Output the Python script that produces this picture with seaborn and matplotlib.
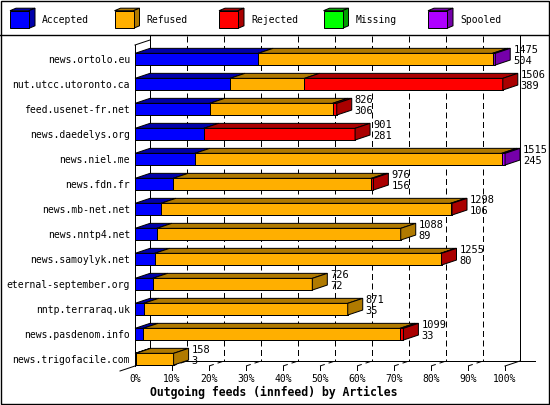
import numpy as np
import pandas as pd
import matplotlib
matplotlib.use("Agg")
import matplotlib.pyplot as plt
import seaborn as sns

# Outgoing feeds (innfeed) - articles per peer
servers = ["news.ortolo.eu", "nut.utcc.utoronto.ca", "feed.usenet-fr.net",
           "news.daedelys.org", "news.niel.me", "news.fdn.fr", "news.mb-net.net",
           "news.nntp4.net", "news.samoylyk.net", "eternal-september.org",
           "nntp.terraraq.uk", "news.pasdenom.info", "news.trigofacile.com"]
total = [1475, 1506, 826, 901, 1515, 976, 1298, 1088, 1255, 726, 871, 1099, 158]
accepted = [504, 389, 306, 281, 245, 156, 106, 89, 80, 72, 35, 33, 3]
refused = [960, 305, 503, 0, 1256, 812, 1186, 999, 1171, 654, 836, 1052, 155]
rejected = [0, 812, 17, 620, 0, 8, 6, 0, 4, 0, 0, 14, 0]
missing = [0, 0, 0, 0, 0, 0, 0, 0, 0, 0, 0, 0, 0]
spooled = [11, 0, 0, 0, 14, 0, 0, 0, 0, 0, 0, 0, 0]

series = ["Accepted", "Refused", "Rejected", "Missing", "Spooled"]
colors = ["#0000FF", "#FFAF00", "#FF0000", "#00FF00", "#AF00FF"]
dark = ["#0000AA", "#B07A00", "#AA0000", "#00A000", "#7500AA"]

df = pd.DataFrame({"server": servers, "Accepted": accepted, "Refused": refused,
                   "Rejected": rejected, "Missing": missing, "Spooled": spooled})
vmax = max(total)
pct = df[series].div(vmax).mul(100)
cum = pct.cumsum(axis=1)

W, H = 550, 405
FONT = "DejaVu Sans Mono"
LW = 0.72

fig = plt.figure(figsize=(5.5, 4.05), dpi=100)
fig.patch.set_facecolor("white")

# pixel overlay for frame / legend (behind the bars)
pax = fig.add_axes([0, 0, 1, 1], zorder=0)
pax.set_xlim(0, W)
pax.set_ylim(H, 0)
pax.axis("off")

# main data axes: 0% -> x 135px, 100% -> x 505px
top_px, bot_px = 46.7, 371.7
ax = fig.add_axes([135 / W, (H - bot_px) / H, 370 / W, (bot_px - top_px) / H], zorder=1)
ax.patch.set_alpha(0)

bh = 0.468
for k in range(len(series) - 1, -1, -1):
    sns.barplot(x=cum[series[k]], y=df["server"], orient="h", color=colors[k],
                width=bh, edgecolor="black", linewidth=LW, saturation=1,
                ax=ax, zorder=3)

ax.set_xlim(0, 100)
ax.set_ylim(len(servers) - 0.5, -0.5)
for s in ax.spines.values():
    s.set_visible(False)
ax.set_xlabel("")
ax.set_ylabel("")
ax.set_xticks(range(0, 101, 10))
ax.set_xticklabels([f"{t}%" for t in range(0, 101, 10)])
ax.tick_params(length=0, labelsize=7, pad=1.5)
ax.tick_params(axis="y", pad=3.6)
for lab in ax.get_xticklabels() + ax.get_yticklabels():
    lab.set_fontfamily(FONT)
for p in ax.patches:
    p.set_clip_on(False)

# 3D depth offsets in data units
dxu = 15 * 100 / 370
dyu = 5 / 25
for i in range(len(servers)):
    yt, yb = i - bh / 2, i + bh / 2
    start = 0.0
    last = None
    for k, name in enumerate(series):
        v = pct.loc[i, name]
        if v <= 0:
            continue
        end = start + v
        ax.fill([start, end, end + dxu, start + dxu], [yt, yt, yt - dyu, yt - dyu],
                facecolor=dark[k], edgecolor="black", linewidth=LW, zorder=4, clip_on=False)
        last = (end, k)
        start = end
    end, k = last
    ax.fill([end, end + dxu, end + dxu, end], [yt, yt - dyu, yb - dyu, yb],
            facecolor=dark[k], edgecolor="black", linewidth=LW, zorder=4, clip_on=False)
    lx = end + 18 * 100 / 370
    ax.text(lx, i - 0.36, str(total[i]), fontsize=7.5, family=FONT, va="center", ha="left", zorder=5)
    ax.text(lx, i + 0.06, str(accepted[i]), fontsize=7.5, family=FONT, va="center", ha="left", zorder=5)

# frame: back walls, grid, floor
kw = dict(color="black", linewidth=LW)
pax.plot([150, 150], [36, 361], **kw)
pax.plot([520, 520], [36, 361], **kw)
pax.plot([135, 135], [45, 366], **kw)
pax.plot([135, 150], [45, 40], **kw)
pax.plot([150, 535], [361, 361], **kw)
pax.plot([120, 150], [371, 361], **kw)
pax.plot([505, 520], [366, 361], **kw)
for k in range(1, 10):
    xb = 150 + 37 * k
    pax.plot([xb, xb], [36, 361], linestyle=(0, (6, 3.5)), **kw)
    xf = 135 + 37 * k
    pax.plot([xf, xf + 15], [366, 361], linestyle=(0, (5, 4)), **kw)
    pax.plot([xf, xf], [366, 370], **kw)
pax.plot([505, 505], [366, 370], **kw)

# outer border and legend strip
pax.add_patch(plt.Rectangle((0.5, 0.5), W - 1.5, H - 1.5, fill=False, edgecolor="black", linewidth=1.0))
pax.plot([0, W], [35, 35], color="black", linewidth=1.0)
for k, name in enumerate(series):
    x0 = 10 + 104.5 * k
    y0, y1 = 10.7, 28.3
    x1 = x0 + 19
    pax.fill([x0, x1, x1 + 6, x0 + 6], [y0, y0, y0 - 2.5, y0 - 2.5],
             facecolor=dark[k], edgecolor="black", linewidth=LW)
    pax.fill([x1, x1 + 6, x1 + 6, x1], [y0, y0 - 2.5, y1 - 2.5, y1],
             facecolor=dark[k], edgecolor="black", linewidth=LW)
    pax.fill([x0, x1, x1, x0], [y0, y0, y1, y1],
             facecolor=colors[k], edgecolor="black", linewidth=LW)
    pax.text(x0 + 32, 20, name, fontsize=7, family=FONT, va="center", ha="left")

pax.text(274, 392, "Outgoing feeds (innfeed) by Articles", fontsize=8.3,
         family=FONT, weight="bold", ha="center", va="center")

fig.savefig("out.png", dpi=100)
